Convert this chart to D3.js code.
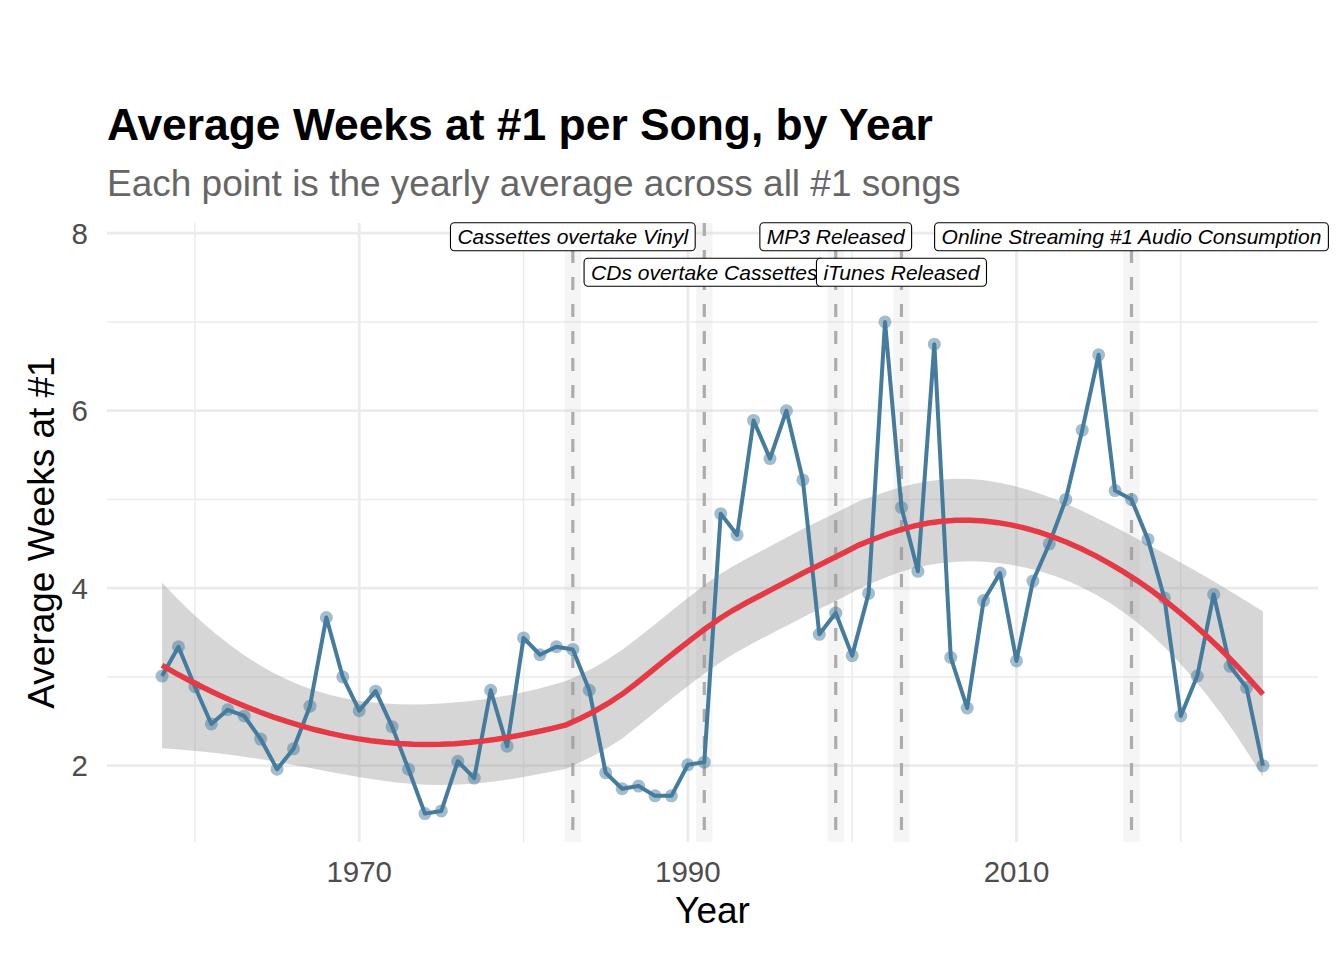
<!DOCTYPE html>
<html>
<head>
<meta charset="utf-8">
<script src="https://cdn.jsdelivr.net/npm/d3@7/dist/d3.min.js"></script>
<style>
  html, body { margin: 0; padding: 0; background: #ffffff; }
  svg { display: block; font-family: "Liberation Sans", Arial, sans-serif; }
</style>
</head>
<body>
<svg id="chart" width="1344" height="960"></svg>
<script>
// ---------------- DATA ----------------
const years = d3.range(1958, 2026);
const avgWeeks = [
  3.01, 3.34, 2.89, 2.47, 2.63, 2.56, 2.30, 1.96, 2.19, 2.67,
  3.67, 3.00, 2.62, 2.84, 2.44, 1.96, 1.46, 1.49, 2.05, 1.86,
  2.85, 2.22, 3.44, 3.25, 3.34, 3.31, 2.85, 1.92, 1.74, 1.77,
  1.66, 1.66, 2.01, 2.04, 4.84, 4.60, 5.89, 5.46, 6.00, 5.22,
  3.48, 3.72, 3.24, 3.94, 7.00, 4.91, 4.19, 6.75, 3.22, 2.65,
  3.86, 4.17, 3.18, 4.08, 4.50, 5.00, 5.78, 6.63, 5.10, 5.00,
  4.55, 3.89, 2.56, 3.01, 3.93, 3.12, 2.88, 2.00
];
const eventYears = [1983, 1991, 1999, 2003, 2017];
const eventLabels = ["Cassettes overtake Vinyl", "CDs overtake Cassettes", "MP3 Released", "iTunes Released", "Online Streaming #1 Audio Consumption"];
const eventLabelY = [8, 7.6, 8, 7.6, 8];
const xTicks = [1970, 1990, 2010];
const xMinor = [1960, 1980, 2000, 2020];
const yTicks = [2, 4, 6, 8];
const yMinor = [3, 5, 7];
const titleText = "Average Weeks at #1 per Song, by Year";
const subtitleText = "Each point is the yearly average across all #1 songs";
const xTitle = "Year";
const yTitle = "Average Weeks at #1";

// ---------------- LOESS (span .75, degree 2) with SE ----------------
function loessRow(xs, x0, span) {
  const n = xs.length;
  const q = Math.floor(n * span);
  const dists = xs.map(x => Math.abs(x - x0));
  const h = dists.slice().sort((a, b) => a - b)[q - 1];
  const w = dists.map(d => { const u = d / h; return u < 1 ? Math.pow(1 - u * u * u, 3) : 0; });
  const S = [[0,0,0],[0,0,0],[0,0,0]];
  const dd = xs.map(x => (x - x0) / 10);
  for (let j = 0; j < n; j++) {
    const v = [1, dd[j], dd[j] * dd[j]];
    for (let a = 0; a < 3; a++) for (let b = 0; b < 3; b++) S[a][b] += w[j] * v[a] * v[b];
  }
  const [[a, b, c], [d, e, f], [g, hh, i]] = S;
  const det = a * (e * i - f * hh) - b * (d * i - f * g) + c * (d * hh - e * g);
  const c0 = (e * i - f * hh) / det, c1 = -(d * i - f * g) / det, c2 = (d * hh - e * g) / det;
  return dd.map((dj, j) => w[j] * (c0 + c1 * dj + c2 * dj * dj));
}
function loess(xs, ys, span, evalX) {
  const n = xs.length;
  const L = xs.map(x0 => loessRow(xs, x0, span));
  const fitted = L.map(r => d3.sum(r, (l, j) => l * ys[j]));
  const res = ys.map((y, j) => y - fitted[j]);
  const IL = L.map((r, i) => r.map((l, j) => (i === j ? 1 : 0) - l));
  const M = [];
  for (let a = 0; a < n; a++) M.push(new Array(n).fill(0));
  for (let a = 0; a < n; a++) for (let b = a; b < n; b++) {
    let s = 0; for (let k = 0; k < n; k++) s += IL[k][a] * IL[k][b];
    M[a][b] = s; M[b][a] = s;
  }
  let one = 0, two = 0;
  for (let a = 0; a < n; a++) { one += M[a][a]; for (let b = 0; b < n; b++) two += M[a][b] * M[a][b]; }
  const sigma = Math.sqrt(d3.sum(res, r => r * r) / one);
  const df = one * one / two;
  const z = 1.959964;
  const t = z + (z ** 3 + z) / (4 * df) + (5 * z ** 5 + 16 * z ** 3 + 3 * z) / (96 * df * df);
  return evalX.map(x0 => {
    const r = loessRow(xs, x0, span);
    const fit = d3.sum(r, (l, j) => l * ys[j]);
    const se = sigma * Math.sqrt(d3.sum(r, l => l * l));
    return { x: x0, y: fit, lo: fit - t * se, hi: fit + t * se };
  });
}
const evalX = d3.range(80).map(i => 1958 + i * (2025 - 1958) / 79);
const smooth = loess(years, avgWeeks, 0.75, evalX);

// ---------------- LAYOUT ----------------
const svg = d3.select("#chart");
const panel = { left: 107, right: 1318, top: 223, bottom: 842 };
const x = d3.scaleLinear().domain([1954.65, 2028.35]).range([panel.left, panel.right]);
const y = d3.scaleLinear().domain([1.14, 8.115]).range([panel.bottom, panel.top]);

const grid = svg.append("g");
grid.selectAll(".ymin").data(yMinor).join("line")
  .attr("x1", panel.left).attr("x2", panel.right)
  .attr("y1", d => y(d)).attr("y2", d => y(d))
  .attr("stroke", "#ebebeb").attr("stroke-width", 1.4);
grid.selectAll(".xmin").data(xMinor).join("line")
  .attr("y1", panel.top).attr("y2", panel.bottom)
  .attr("x1", d => x(d)).attr("x2", d => x(d))
  .attr("stroke", "#ebebeb").attr("stroke-width", 1.4);
grid.selectAll(".ymaj").data(yTicks).join("line")
  .attr("x1", panel.left).attr("x2", panel.right)
  .attr("y1", d => y(d)).attr("y2", d => y(d))
  .attr("stroke", "#ebebeb").attr("stroke-width", 2.8);
grid.selectAll(".xmaj").data(xTicks).join("line")
  .attr("y1", panel.top).attr("y2", panel.bottom)
  .attr("x1", d => x(d)).attr("x2", d => x(d))
  .attr("stroke", "#ebebeb").attr("stroke-width", 2.8);

// event bands & lines
svg.append("g").selectAll("rect").data(eventYears).join("rect")
  .attr("x", d => x(d - 0.5)).attr("width", d => x(d + 0.5) - x(d - 0.5))
  .attr("y", panel.top).attr("height", panel.bottom - panel.top)
  .attr("fill", "#bdbdbd").attr("fill-opacity", 0.15);
svg.append("g").selectAll("line").data(eventYears).join("line")
  .attr("x1", d => x(d)).attr("x2", d => x(d))
  .attr("y1", panel.top).attr("y2", panel.bottom)
  .attr("stroke", "#acacac").attr("stroke-width", 3.2)
  .attr("stroke-dasharray", "13,14");

// ribbon
svg.append("path").datum(smooth)
  .attr("d", d3.area().x(d => x(d.x)).y0(d => y(d.lo)).y1(d => y(d.hi)))
  .attr("fill", "#999999").attr("fill-opacity", 0.4);

// data line & points
const series = years.map((yr, i) => ({ yr, v: avgWeeks[i] }));
svg.append("path").datum(series)
  .attr("d", d3.line().x(d => x(d.yr)).y(d => y(d.v)))
  .attr("fill", "none").attr("stroke", "#457B9D").attr("stroke-width", 4)
  .attr("stroke-linejoin", "round");
svg.append("g").selectAll("circle").data(series).join("circle")
  .attr("cx", d => x(d.yr)).attr("cy", d => y(d.v)).attr("r", 6.5)
  .attr("fill", "#457B9D").attr("fill-opacity", 0.5);

// smooth line
svg.append("path").datum(smooth)
  .attr("d", d3.line().x(d => x(d.x)).y(d => y(d.y)))
  .attr("fill", "none").attr("stroke", "#E63946").attr("stroke-width", 5.5);

// labels
const lab = svg.append("g");
eventYears.forEach((yr, i) => {
  const g = lab.append("g");
  const cy = y(eventLabelY[i]) + 3.5;
  const t = g.append("text").text(eventLabels[i])
    .attr("x", x(yr)).attr("y", cy).attr("dy", "0.36em")
    .attr("text-anchor", "middle").attr("font-style", "italic")
    .attr("font-size", 21).attr("fill", "#000");
  const w = t.node().getComputedTextLength();
  g.insert("rect", "text")
    .attr("x", x(yr) - w / 2 - 7).attr("width", w + 14)
    .attr("y", cy - 14).attr("height", 28)
    .attr("rx", 4).attr("ry", 4)
    .attr("fill", "#fff").attr("stroke", "#000").attr("stroke-width", 1.1);
});

// axes text
svg.append("g").selectAll("text").data(xTicks).join("text")
  .attr("x", d => x(d)).attr("y", 882).attr("text-anchor", "middle")
  .attr("font-size", 29.5).attr("fill", "#4d4d4d").text(d => d);
svg.append("g").selectAll("text").data(yTicks).join("text")
  .attr("x", 88).attr("y", d => y(d)).attr("dy", "0.36em").attr("text-anchor", "end")
  .attr("font-size", 29.5).attr("fill", "#4d4d4d").text(d => d);
svg.append("text").attr("x", (panel.left + panel.right) / 2).attr("y", 923)
  .attr("text-anchor", "middle").attr("font-size", 37).attr("fill", "#000").text(xTitle);
svg.append("text").attr("transform", `translate(54,${(panel.top + panel.bottom) / 2}) rotate(-90)`)
  .attr("text-anchor", "middle").attr("font-size", 37).attr("fill", "#000").text(yTitle);

svg.append("text").attr("x", 107).attr("y", 140).attr("font-size", 44.4).attr("font-weight", "bold")
  .attr("fill", "#000").text(titleText);
svg.append("text").attr("x", 107).attr("y", 196).attr("font-size", 37)
  .attr("fill", "#666666").text(subtitleText);
</script>
</body>
</html>
